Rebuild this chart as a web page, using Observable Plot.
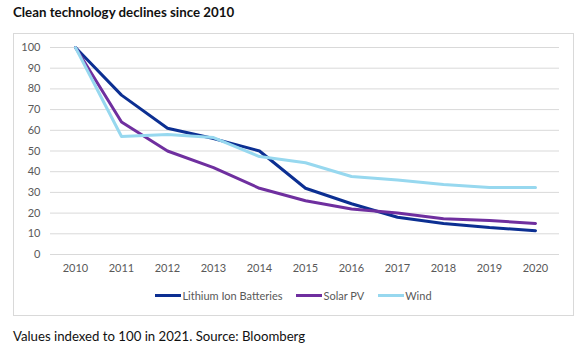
<!DOCTYPE html>
<html>
<head>
<meta charset="utf-8">
<script src="https://cdn.jsdelivr.net/npm/d3@7"></script>
<script src="https://cdn.jsdelivr.net/npm/@observablehq/plot@0.6"></script>
<style>
  html, body { margin: 0; padding: 0; background: #fff; }
  body { width: 585px; height: 345px; position: relative; overflow: hidden; font-family: Lato, "Open Sans", sans-serif; }
  #title { position: absolute; left: 13px; top: 4px; font-size: 13.3px; font-weight: bold; color: #111; white-space: nowrap; }
  #frame { position: absolute; left: 13px; top: 33px; width: 559px; height: 281px; border: 1px solid #d9d9d9; }
  #chart { position: absolute; left: 0; top: 0; }
  #legend { position: absolute; left: 0; top: 255px; width: 559px; display: flex; justify-content: center; gap: 14px; font-size: 11px; color: #595959; }
  .item { display: flex; align-items: center; }
  .sw { width: 26px; height: 3px; margin-right: 1px; }
  #caption { position: absolute; left: 13px; top: 328px; font-size: 13.2px; color: #111; white-space: nowrap; }
</style>
</head>
<body>
<div id="title">Clean technology declines since 2010</div>
<div id="frame">
  <div id="chart"></div>
  <div id="legend"></div>
</div>
<div id="caption">Values indexed to 100 in 2021. Source: Bloomberg</div>
<script>
const years = ["2010","2011","2012","2013","2014","2015","2016","2017","2018","2019","2020"];
const seriesNames = ["Lithium Ion Batteries", "Solar PV", "Wind"];
const lithium = [100, 77, 61, 56, 50, 32, 24.5, 18, 15, 13, 11.5];
const solar   = [100, 64, 50, 42, 32, 26, 22, 20, 17.3, 16.4, 15];
const wind    = [100, 57, 58, 56.5, 47.3, 44.3, 37.7, 36, 33.8, 32.4, 32.4];
const yTicks = [0, 10, 20, 30, 40, 50, 60, 70, 80, 90, 100];
const colors = ["#0c2f92", "#6f2f9f", "#97d8ef"];

const seriesValues = [lithium, solar, wind];
const data = [];
seriesNames.forEach((s, i) => years.forEach((y, j) => data.push({series: s, year: y, value: seriesValues[i][j]})));

const plot = Plot.plot({
  width: 559,
  height: 250,
  marginLeft: 36,
  marginRight: 14,
  marginTop: 13,
  marginBottom: 30,
  style: { fontFamily: "Lato, 'Open Sans', sans-serif", fontSize: "11px", color: "#595959", background: "transparent" },
  x: { type: "point", domain: years, padding: 0.5, label: null },
  y: { domain: [0, 100], label: null },
  color: { domain: seriesNames, range: colors },
  marks: [
    Plot.gridY(yTicks, { stroke: "#d9d9d9", strokeOpacity: 1, strokeWidth: 1 }),
    Plot.axisY(yTicks, { tickSize: 0, tickPadding: 10, label: null, fill: "#595959" }),
    Plot.axisX({ tickSize: 0, tickPadding: 10, label: null, fill: "#595959" }),
    Plot.line(data, { x: "year", y: "value", z: "series", stroke: "series", strokeWidth: 3, strokeLinejoin: "round" })
  ]
});
document.getElementById("chart").appendChild(plot);

const legend = document.getElementById("legend");
seriesNames.forEach((s, i) => {
  const item = document.createElement("div");
  item.className = "item";
  const sw = document.createElement("span");
  sw.className = "sw";
  sw.style.background = colors[i];
  const t = document.createElement("span");
  t.textContent = s;
  item.appendChild(sw);
  item.appendChild(t);
  legend.appendChild(item);
});
</script>
</body>
</html>
